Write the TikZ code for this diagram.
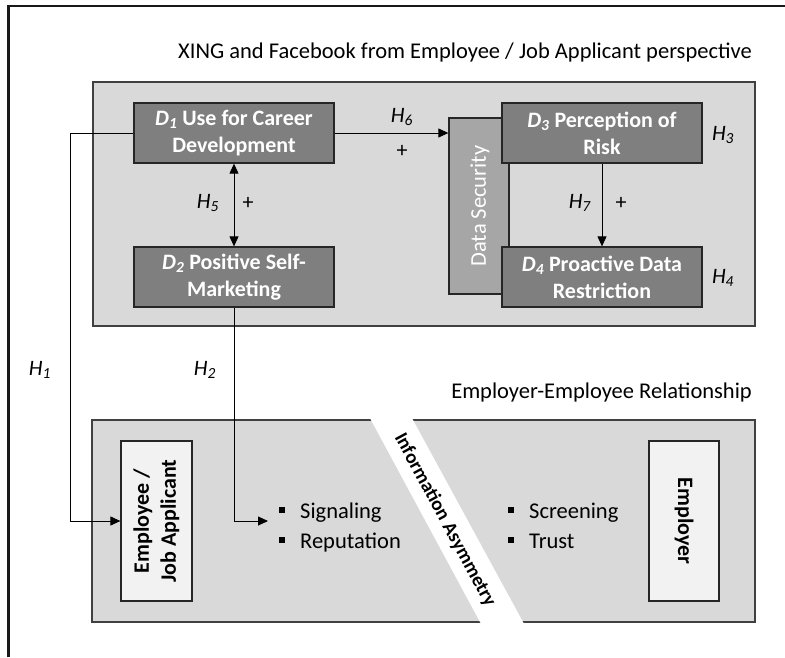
\documentclass[tikz,border=0pt]{standalone}
\usepackage{fontspec}
\setmainfont{Carlito}
\usetikzlibrary{arrows.meta}

\definecolor{panelfill}{HTML}{D9D9D9}
\definecolor{panelline}{HTML}{404040}
\definecolor{boxfill}{HTML}{7F7F7F}
\definecolor{boxline}{HTML}{262626}
\definecolor{secfill}{HTML}{A6A6A6}
\definecolor{actorfill}{HTML}{F2F2F2}

\newcommand{\Dlab}[1]{\textit{D}\textsubscript{\textit{#1}}}
\newcommand{\Hlab}[1]{\textit{H}\textsubscript{\textit{#1}}}
\newcommand{\sqbullet}{\rule[5pt]{6pt}{6pt}\hspace{15pt}}

\tikzset{
  panel/.style={fill=panelfill, draw=panelline, line width=1.3pt},
  dbox/.style={fill=boxfill, draw=boxline, line width=1.3pt, text=white,
    font=\fontsize{22}{27}\selectfont\bfseries, align=center,
    minimum width=200pt, minimum height=60pt, inner sep=0pt},
  secbox/.style={fill=secfill, draw=boxline, line width=1.3pt, text=white,
    font=\fontsize{22}{26}\selectfont, minimum width=60pt, minimum height=176pt, inner sep=0pt},
  actor/.style={fill=actorfill, draw=boxline, line width=1.2pt,
    font=\fontsize{22}{26}\selectfont\bfseries, align=center,
    minimum width=71pt, minimum height=160pt, inner sep=0pt},
  title/.style={font=\fontsize{22.5}{27}\selectfont, anchor=base east, inner sep=0pt},
  hlab/.style={font=\fontsize{22}{26}\selectfont, inner sep=0pt},
  item/.style={font=\fontsize{22.5}{27}\selectfont, anchor=base west, inner sep=0pt},
  link/.style={line width=0.9pt, draw=black},
  tip/.style={-{Triangle[length=10pt,width=9pt]}},
}

\begin{document}
\begin{tikzpicture}[x=1pt, y=-1pt]
\useasboundingbox (0,0) rectangle (785,657);

% outer frame (top and left edges)
\draw[line width=2.6pt, draw=black!90] (8.5,657) -- (8.5,6) -- (785,6);

% upper panel: social network use
\node[title] (ttop) at (752,58) {XING and Facebook from Employee / Job Applicant perspective};
\draw[panel] (93,82) rectangle (755,326);

\node[secbox] (ds) at (479,206) {};
\node[rotate=90, text=white, font=\fontsize{22.5}{26}\selectfont, inner sep=0pt] (dstext) at (480,206) {Data Security};

\node[dbox] (d1) at (234,133) {\Dlab{1} Use for Career\\Development};
\node[dbox] (d2) at (234,277) {\Dlab{2} Positive Self-\\Marketing};
\node[dbox] (d3) at (602,133) {\Dlab{3} Perception of\\Risk};
\node[dbox] (d4) at (602,277) {\Dlab{4} Proactive Data\\Restriction};

% lower panel: employer-employee relationship
\node[title] (tbot) at (752,398) {Employer-Employee Relationship};
\draw[panel] (92,420) rectangle (755,622);
\fill[white] (369.9,418) -- (411.9,418) -- (524.1,624) -- (481.1,624) -- cycle;
\node[rotate=-61.65, font=\fontsize{19.5}{24}\selectfont\bfseries, inner sep=0pt] (asym) at (445,520) {Information Asymmetry};

\node[actor] (emp) at (156.5,521) {};
\node[rotate=90, font=\fontsize{22}{27}\selectfont\bfseries, align=center, inner sep=0pt] (emptext) at (156.5,521) {Employee /\\Job Applicant};
\node[actor, minimum width=70pt] (empr) at (684,521) {};
\node[rotate=-90, font=\fontsize{22}{27}\selectfont\bfseries, inner sep=0pt] (emprtext) at (684,521) {Employer};

\node[item] (sig) at (279,518) {\sqbullet Signaling};
\node[item] (rep) at (279,548) {\sqbullet Reputation};
\node[item] (scr) at (508,518) {\sqbullet Screening};
\node[item] (tru) at (508,548) {\sqbullet Trust};
\coordinate (sigin) at (268,521);
\coordinate (h1bend) at (70,133);

% hypotheses
\draw[link, {Triangle[length=10pt,width=9pt]}-{Triangle[length=10pt,width=9pt]}] (d1.south) -- (d2.north);
\draw[link, tip] (d1.east) -- (d1.east -| ds.west);
\draw[link, tip] (d3.south) -- (d4.north);
\draw[link, tip] (d1.west) -- (h1bend) |- (emp.west);
\draw[link, tip] (d2.south) |- (sigin);

\node[hlab] (h6) at (402,117) {\Hlab{6}};
\node[hlab] (p6) at (402,151) {+};
\node[hlab] (h5) at (208,203) {\Hlab{5}};
\node[hlab] (p5) at (248,203) {+};
\node[hlab] (h7) at (580,203) {\Hlab{7}};
\node[hlab] (p7) at (621,203) {+};
\node[hlab] (h3) at (723,135) {\Hlab{3}};
\node[hlab] (h4) at (723,278) {\Hlab{4}};
\node[hlab] (h1) at (40,370) {\Hlab{1}};
\node[hlab] (h2) at (205,370) {\Hlab{2}};
\end{tikzpicture}
\end{document}
